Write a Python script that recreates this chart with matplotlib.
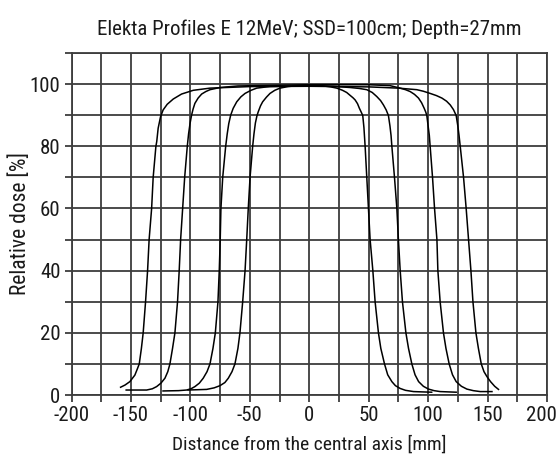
import matplotlib
matplotlib.use("Agg")
import matplotlib.pyplot as plt
from matplotlib import font_manager
from matplotlib.ticker import MultipleLocator, FuncFormatter
from matplotlib.transforms import ScaledTranslation

# Dose profiles (position in mm, relative dose in %) for four applicator sizes
x_10 = [-102, -86.3, -80.0, -75.1, -71.0, -68.1, -65.0, -62.5, -60.0, -58.3, -56.0, -54.0,
        -52.6, -51.3, -49.8, -47.6, -46.5, -45.3, -44.0, -42.9, -41.0, -39.2, -36.0, -33.0,
        -29.0, -24.6, -18.0, -10.0, 0.0, 10.0, 18.0, 23.2, 28.0, 31.5, 34.6, 36.8, 38.6,
        40.6, 42.2, 43.7, 45.0, 46.0, 47.0, 48.4, 49.8, 51.2, 53.5, 55.4, 58.2, 60.2,
        63.3, 66.0, 69.5, 72.5, 76.5, 81.0, 87.7, 95.0, 103]
y_10 = [1.6, 1.8, 2.3, 3.0, 4.0, 5.4, 7.5, 10, 15, 20, 30, 40,
        50, 60, 70, 80, 84, 87.5, 89.8, 91.1, 93.0, 94.3, 95.8, 97.0,
        98.0, 98.7, 99.2, 99.5, 99.6, 99.5, 99.1, 98.7, 98.0, 97.3, 96.3, 95.6, 94.9,
        93.7, 92.2, 91.0, 89.9, 86, 80, 70, 60, 50, 40, 30, 20, 15,
        10, 6.5, 4.3, 3.0, 2.1, 1.5, 1.1, 1.0, 0.9]

x_15 = [-123, -110, -103.2, -99.5, -96.2, -92.5, -89.2, -86.0, -83.5, -81.0, -79.0, -76.8,
        -75.7, -74.9, -74.3, -72.8, -70.3, -69.0, -67.7, -66.1, -64.0, -61.0, -57.5, -54.0,
        -49.0, -44.2, -38.0, -33.0, 0.0, 20.0, 34.4, 42.0, 48.4, 53.0, 56.8, 60.0, 62.4,
        64.7, 66.6, 67.9, 68.8, 69.5, 71.7, 73.7, 75.0, 76.5, 78.4, 81.3, 83.5, 86.3,
        89.0, 92.0, 96.0, 100.3, 105.0, 110.1, 123.6]
y_15 = [1.3, 1.4, 1.6, 2.0, 2.7, 3.8, 5.4, 7.5, 10, 15, 20, 30,
        40, 50, 60, 70, 80, 84, 87.3, 90, 92.2, 94.3, 95.9, 97.0,
        98.0, 98.7, 99.0, 99.2, 99.5, 99.3, 98.9, 98.6, 98.2, 97.3, 96.0, 94.7, 93.3,
        91.7, 89.9, 86.5, 83.5, 80, 70, 60, 50, 40, 30, 20, 15, 10,
        6.5, 4.3, 2.8, 1.9, 1.4, 1.1, 0.9]

x_20 = [-154, -136.8, -132.0, -128.4, -124.8, -121.4, -119.0, -117.2, -115.0, -113.0, -110.8,
        -109.4, -108.2, -106.5, -104.8, -102.6, -101.5, -100.3, -99.0, -97.7, -96.2, -93.5,
        -90.5, -87.0, -83.5, -75.1, -60.0, 0.0, 50.0, 68.0, 76.5, 81.0, 84.9, 88.5, 91.9,
        94.5, 96.7, 98.0, 98.9, 100.0, 101.0, 101.7, 103.7, 105.4, 107.4, 108.2, 110.1,
        112.9, 115.0, 117.7, 120.5, 123.6, 128.0, 132.6, 138.0, 143.8, 153.7]
y_20 = [1.6, 1.6, 2.0, 2.7, 3.8, 5.4, 7.5, 10, 15, 20, 30,
        40, 50, 60, 70, 80, 84, 87.3, 90, 92.0, 93.8, 95.5,
        96.8, 97.6, 98.2, 98.9, 99.4, 99.8, 99.8, 99.5, 98.7, 98.2, 97.6, 96.7, 95.5,
        94.0, 92.2, 91.0, 89.9, 86.5, 83.5, 80, 70, 60, 50, 40, 30,
        20, 15, 10, 6.5, 4.3, 2.8, 1.9, 1.4, 1.1, 1.1]

x_25 = [-158.7, -155.0, -150.9, -146.7, -144.5, -143.0, -141.2, -139.7, -137.7, -136.0, -134.7,
        -132.6, -131.3, -129.0, -128.3, -127.1, -125.1, -122.9, -119.5, -114.4, -107.4, -97.6,
        -83.5, -50.0, 0.0, 50.0, 75.0, 90.5, 96.0, 101.7, 107.0, 111.6, 115.5, 118.6, 121.3,
        123.6, 125.0, 126.0, 127.0, 129.8, 132.0, 134.0, 136.0, 137.7, 140.2, 142.3, 144.7,
        147.0, 149.5, 152.5, 156.0, 159.2]
y_25 = [2.5, 3.2, 4.3, 6.4, 8.5, 10, 15, 20, 30, 40, 50,
        60, 70, 80, 81.5, 85.8, 89.5, 91.7, 93.5, 95.2, 96.8, 98.0,
        98.7, 99.2, 99.3, 99.1, 98.7, 98.2, 97.7, 97.0, 96.3, 95.5, 94.5, 93.3, 91.8,
        89.9, 86.5, 83.5, 80, 70, 60, 50, 40, 30, 20, 15, 10,
        7.5, 5.9, 4.3, 2.8, 1.8]

profiles = [(x_10, y_10), (x_15, y_15), (x_20, y_20), (x_25, y_25)]

title = "Elekta Profiles E 12MeV; SSD=100cm; Depth=27mm"
xlabel = "Distance from the central axis [mm]"
ylabel = "Relative dose [%]"

# pick a narrow sans face if one is installed
available = {f.name for f in font_manager.fontManager.ttflist}
family = "DejaVu Sans"
for cand in ["Liberation Sans Narrow", "Roboto Condensed", "Open Sans Condensed", "Noto Sans Condensed"]:
    if cand in available:
        family = cand
        break
plt.rcParams["font.family"] = [family, "DejaVu Sans"]
plt.rcParams["axes.unicode_minus"] = False

grid_color = "#3d3d3d"
text_color = "#1a1a1a"

fig = plt.figure(figsize=(5.58, 4.65), dpi=100)
ax = fig.add_axes([71.5 / 558, 1 - 395 / 465, (547 - 71.5) / 558, (395 - 53) / 465])

for xs, ys in profiles:
    ax.plot(xs, ys, color="black", lw=1.1, solid_joinstyle="round", zorder=3)

ax.set_xlim(-200, 200)
ax.set_ylim(0, 110)
ax.xaxis.set_major_locator(MultipleLocator(25))
ax.yaxis.set_major_locator(MultipleLocator(10))
ax.xaxis.set_major_formatter(FuncFormatter(lambda v, p: f"{int(round(v))}" if round(v) % 50 == 0 else ""))
ax.yaxis.set_major_formatter(FuncFormatter(lambda v, p: f"{int(round(v))}" if round(v) % 20 == 0 else ""))
ax.grid(True, color=grid_color, lw=1.3)
ax.set_axisbelow(True)
for s in ax.spines.values():
    s.set_color(grid_color)
    s.set_linewidth(1.3)
ax.tick_params(direction="out", length=5, width=1.3, color=grid_color, labelsize=15,
               labelcolor=text_color, pad=3)

ax.set_title(title, fontsize=15, color=text_color, pad=13)
ax.set_xlabel(xlabel, fontsize=14, color=text_color, va="center")
ax.xaxis.set_label_coords(0.5, (395 - 445) / 342)
ax.set_ylabel(ylabel, fontsize=15.5, color=text_color, va="center")
ax.yaxis.set_label_coords((20 - 71.5) / 475.5, 0.5)

# keep the rightmost x tick label inside the figure edge
fig.canvas.draw()
for tick in ax.xaxis.get_major_ticks():
    if tick.label1.get_text() == "200":
        tick.label1.set_transform(tick.label1.get_transform()
                                  + ScaledTranslation(-4 / 72, 0, fig.dpi_scale_trans))

fig.savefig("out.png", dpi=100)
